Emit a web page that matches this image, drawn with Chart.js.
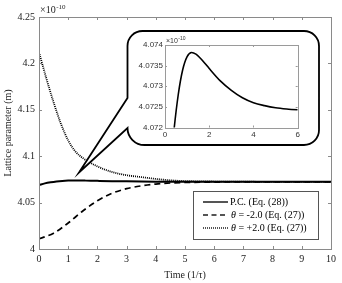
<!DOCTYPE html>
<html lang="en">
<head>
    <meta charset="UTF-8">
    <title>Lattice parameter</title>
    <script src="https://cdn.jsdelivr.net/npm/chart.js"></script>
    <style>
        html, body { margin: 0; padding: 0; background: #fff; }
        #wrap { position: relative; width: 342px; height: 283px; }
        #mainChart { position: absolute; left: 0; top: 0; }
        #insetChart { position: absolute; left: 128px; top: 32px; }
    </style>
</head>
<body>
    <div id="wrap">
        <canvas id="mainChart" width="342" height="283"></canvas>
        <canvas id="insetChart" width="189" height="112"></canvas>
    </div>
    <script>
        // values in units of 1e-10 m
        const pcTime = [0, 0.2, 0.4, 0.6, 0.8, 1.0, 1.2, 1.4, 1.6, 1.8, 2.0, 2.5, 3.0, 3.5, 4.0, 4.5, 5.0, 5.5, 6.0, 7, 8, 9, 10];
        const pcValues = [4.0690, 4.0707, 4.0719, 4.0728, 4.0734, 4.07372, 4.07382, 4.07378, 4.07368, 4.07356, 4.07343,
            4.07313, 4.07290, 4.07272, 4.07260, 4.07253, 4.07248, 4.07245, 4.07243, 4.07240, 4.07238, 4.07237, 4.07236];

        const negTime = [0, 0.5, 1.0, 1.5, 2.0, 2.5, 3.0, 3.5, 4.0, 4.5, 5, 6, 7, 8, 10];
        const negValues = [4.011, 4.017, 4.028, 4.041, 4.052, 4.060, 4.065, 4.068, 4.0700, 4.0711, 4.0717, 4.0721, 4.0723, 4.0723, 4.0724];

        const posTime = [0, 0.25, 0.5, 0.75, 1.0, 1.25, 1.5, 2.0, 2.5, 3.0, 3.5, 4.0, 4.5, 5.0, 6, 7, 8, 10];
        const posValues = [4.212, 4.184, 4.158, 4.135, 4.117, 4.105, 4.098, 4.089, 4.083, 4.0795, 4.0775, 4.0755, 4.074, 4.0732, 4.0727, 4.0725, 4.0724, 4.0724];

        const legendLabels = ['P.C. (Eq. (28))', '= -2.0 (Eq. (27))', '= +2.0 (Eq. (27))'];
        const mainXTicks = [0, 1, 2, 3, 4, 5, 6, 7, 8, 9, 10];
        const mainYTicks = [4, 4.05, 4.1, 4.15, 4.2, 4.25];
        const insetXTicks = [0, 2, 4, 6];
        const insetYTicks = [4.072, 4.0725, 4.073, 4.0735, 4.074];

        const pts = (xs, ys) => xs.map((x, i) => ({ x: x, y: ys[i] }));
        const serif = '"Liberation Serif", "Times New Roman", serif';
        const sans = '"Liberation Sans", Arial, sans-serif';

        function inwardTicks(chart, xTicks, yTicks, len, color) {
            const ctx = chart.ctx, a = chart.chartArea;
            const xs = chart.scales.x, ys = chart.scales.y;
            ctx.save();
            ctx.strokeStyle = color;
            ctx.lineWidth = 1;
            ctx.beginPath();
            xTicks.forEach(v => {
                const px = Math.round(xs.getPixelForValue(v)) + 0.5;
                ctx.moveTo(px, a.bottom); ctx.lineTo(px, a.bottom - len);
                ctx.moveTo(px, a.top); ctx.lineTo(px, a.top + len);
            });
            yTicks.forEach(v => {
                const py = Math.round(ys.getPixelForValue(v)) + 0.5;
                ctx.moveTo(a.left, py); ctx.lineTo(a.left + len, py);
                ctx.moveTo(a.right, py); ctx.lineTo(a.right - len, py);
            });
            ctx.stroke();
            ctx.strokeRect(Math.round(a.left) + 0.5, Math.round(a.top) + 0.5, Math.round(a.right - a.left), Math.round(a.bottom - a.top));
            ctx.restore();
        }

        function multiplier(ctx, x, y, size, font, color) {
            ctx.save();
            ctx.fillStyle = color;
            ctx.textBaseline = 'alphabetic';
            ctx.font = size + 'px ' + font;
            ctx.fillText('\u00d710', x, y);
            const w = ctx.measureText('\u00d710').width;
            ctx.font = Math.round(size * 0.7) + 'px ' + font;
            ctx.fillText('-10', x + w + 0.5, y - size * 0.4);
            ctx.restore();
        }

        const mainDecor = {
            id: 'mainDecor',
            afterDraw(chart) {
                const ctx = chart.ctx;
                inwardTicks(chart, mainXTicks, mainYTicks, 3, '#8a8a8a');
                multiplier(ctx, 40, 13, 10, serif, '#222');

                // callout bubble for the inset
                const L = 127.5, R = 319, T = 31, B = 145, r = 15, rb = 17;
                ctx.save();
                ctx.beginPath();
                ctx.moveTo(L, 98);
                ctx.lineTo(L, T + r);
                ctx.arcTo(L, T, L + r, T, r);
                ctx.lineTo(R - r, T);
                ctx.arcTo(R, T, R, T + r, r);
                ctx.lineTo(R, B - r);
                ctx.arcTo(R, B, R - r, B, r);
                ctx.lineTo(L + rb, B);
                ctx.arcTo(L, B, L, B - rb, rb);
                ctx.lineTo(chart.scales.x.getPixelForValue(1.37), chart.scales.y.getPixelForValue(4.0825));
                ctx.closePath();
                ctx.fillStyle = '#fff';
                ctx.fill();
                ctx.strokeStyle = '#000';
                ctx.lineWidth = 1.8;
                ctx.lineJoin = 'miter';
                ctx.stroke();
                ctx.restore();

                // legend
                const lx = 193, ly = 191, lw = 125, lh = 48;
                ctx.save();
                ctx.fillStyle = '#fff';
                ctx.fillRect(lx, ly, lw, lh);
                ctx.strokeStyle = '#555';
                ctx.lineWidth = 1;
                ctx.strokeRect(lx + 0.5, ly + 0.5, lw, lh);
                const styles = [[], [5, 3.5], [1, 1]];
                ctx.font = '10px ' + serif;
                ctx.textBaseline = 'middle';
                ctx.fillStyle = '#000';
                for (let i = 0; i < 3; i++) {
                    const yy = ly + 11 + i * 13;
                    ctx.beginPath();
                    ctx.setLineDash(styles[i]);
                    ctx.lineWidth = i === 0 ? 2 : 1.8;
                    ctx.moveTo(203, yy);
                    ctx.lineTo(228, yy);
                    ctx.stroke();
                    ctx.setLineDash([]);
                    if (i === 0) {
                        ctx.fillText(legendLabels[i], 230, yy);
                    } else {
                        ctx.font = 'italic 10px ' + serif;
                        ctx.fillText('\u03b8', 231, yy);
                        const tw = ctx.measureText('\u03b8 ').width;
                        ctx.font = '10px ' + serif;
                        ctx.fillText(legendLabels[i], 231 + tw, yy);
                    }
                }
                ctx.restore();
            }
        };

        new Chart(document.getElementById('mainChart'), {
            type: 'line',
            data: {
                datasets: [
                    { label: 'P.C.', data: pts(pcTime, pcValues), borderColor: '#000', borderWidth: 2, pointRadius: 0, cubicInterpolationMode: 'monotone' },
                    { label: 'theta -2', data: pts(negTime, negValues), borderColor: '#000', borderWidth: 1.7, borderDash: [6, 4], pointRadius: 0, cubicInterpolationMode: 'monotone' },
                    { label: 'theta +2', data: pts(posTime, posValues), borderColor: '#000', borderWidth: 1.8, borderDash: [1, 1], pointRadius: 0, cubicInterpolationMode: 'monotone' }
                ]
            },
            options: {
                responsive: false,
                animation: false,
                devicePixelRatio: 1,
                layout: { padding: { top: 17, right: 11, left: 0, bottom: 0 } },
                plugins: { legend: { display: false }, tooltip: { enabled: false } },
                scales: {
                    x: {
                        type: 'linear', min: 0, max: 10,
                        grid: { display: false, drawTicks: false },
                        border: { display: false },
                        afterBuildTicks: s => { s.ticks = mainXTicks.map(v => ({ value: v })); },
                        ticks: { font: { family: serif, size: 10 }, color: '#222', padding: 4, maxRotation: 0, autoSkip: false },
                        title: { display: true, text: 'Time (1/\u03c4)', font: { family: serif, size: 10 }, color: '#222', padding: { top: 2, bottom: 2 } },
                        afterFit: s => { s.height = 34; }
                    },
                    y: {
                        type: 'linear', min: 4, max: 4.25,
                        grid: { display: false, drawTicks: false },
                        border: { display: false },
                        afterBuildTicks: s => { s.ticks = mainYTicks.map(v => ({ value: v })); },
                        ticks: { font: { family: serif, size: 10 }, color: '#222', padding: 4, callback: v => String(parseFloat(v.toFixed(2))) },
                        title: { display: true, text: 'Lattice parameter (m)', font: { family: serif, size: 10 }, color: '#222', padding: { top: 2, bottom: 2 } },
                        afterFit: s => { s.width = 39; }
                    }
                }
            },
            plugins: [mainDecor]
        });

        const insetDecor = {
            id: 'insetDecor',
            afterDraw(chart) {
                inwardTicks(chart, insetXTicks, insetYTicks, 2, '#9a9a9a');
                multiplier(chart.ctx, 38, 11, 7, sans, '#333');
            }
        };

        new Chart(document.getElementById('insetChart'), {
            type: 'line',
            data: {
                datasets: [
                    { data: pts(pcTime, pcValues), borderColor: '#000', borderWidth: 1.6, pointRadius: 0, cubicInterpolationMode: 'monotone' }
                ]
            },
            options: {
                responsive: false,
                animation: false,
                devicePixelRatio: 1,
                layout: { padding: { top: 13, right: 19.3, left: 0, bottom: 0 } },
                plugins: { legend: { display: false }, tooltip: { enabled: false } },
                scales: {
                    x: {
                        type: 'linear', min: 0, max: 6,
                        grid: { display: false, drawTicks: false },
                        border: { display: false },
                        afterBuildTicks: s => { s.ticks = insetXTicks.map(v => ({ value: v })); },
                        ticks: { font: { family: sans, size: 8 }, color: '#333', padding: 2, maxRotation: 0, autoSkip: false },
                        afterFit: s => { s.height = 16.5; }
                    },
                    y: {
                        type: 'linear', min: 4.072, max: 4.074,
                        grid: { display: false, drawTicks: false },
                        border: { display: false },
                        afterBuildTicks: s => { s.ticks = insetYTicks.map(v => ({ value: v })); },
                        ticks: { font: { family: sans, size: 8 }, color: '#333', padding: 2, callback: v => String(parseFloat(v.toFixed(4))) },
                        afterFit: s => { s.width = 37; }
                    }
                }
            },
            plugins: [insetDecor]
        });
    </script>
</body>
</html>
